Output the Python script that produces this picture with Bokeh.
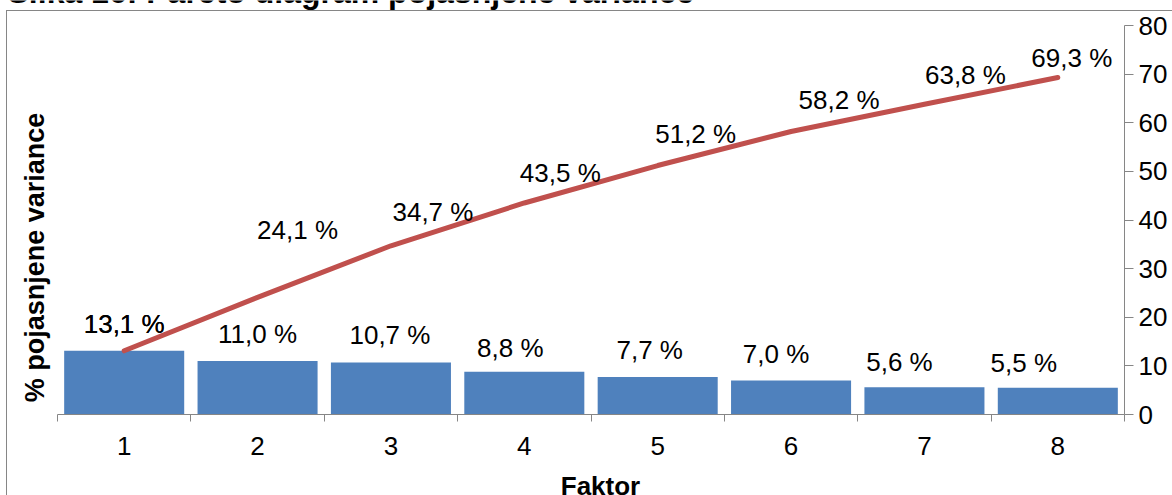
import math
from bokeh.plotting import figure
from bokeh.models import Range1d, FixedTicker, Label, ColumnDataSource
from bokeh.core.properties import value
from bokeh.embed import file_html
from bokeh.resources import INLINE

# ---- data ----
factors = [1, 2, 3, 4, 5, 6, 7, 8]
factor_labels = ["1", "2", "3", "4", "5", "6", "7", "8"]
explained = [13.1, 11.0, 10.7, 8.8, 7.7, 7.0, 5.6, 5.5]
cumulative = [13.1, 24.1, 34.7, 43.5, 51.2, 58.2, 63.8, 69.3]
y_ticks = [0, 10, 20, 30, 40, 50, 60, 70, 80]
title_text = "Slika 16: Pareto diagram pojasnjene variance"
x_title = "Faktor"
y_title = "% pojasnjene variance"

# label placement tweaks (screen px), as in the original
bar_dx = [0, 0, -1, -14, -8, -15, -25, -34]
bar_dy = [-27, -27, -27, -24, -27, -26, -25, -25]
cum_dx = [0, 40, 42, 36, 38, 48, 41, 14]
cum_dy = [-27, -67, -34, -30, -32, -32, -29, -20]

FONT = "Liberation Sans"
GRAY = "#868686"
BLUE = "#4F81BD"
RED = "#C0504D"

W, H = 1172, 495
# plot-area edges in px (category axis 57..1124, value 0..80 at 414..25)
PL, PR, PT, PB = 57, 1124, 25, 414
UX = (PR - PL) / 8.0       # px per category
UY = (PB - PT) / 80.0      # px per value unit

def px2x(px):
    return 0.5 + (px - PL) / UX

def py2y(py):
    return (PB - py) / UY

p = figure(width=W, height=H,
           x_range=Range1d(px2x(0), px2x(PR)), y_range=Range1d(0, py2y(0)),
           y_axis_location="right", output_backend="svg", toolbar_location=None,
           min_border_left=0, min_border_right=W - PR, min_border_top=0,
           min_border_bottom=H - PB)
p.outline_line_color = None
p.xgrid.visible = False
p.ygrid.visible = False
p.background_fill_alpha = 0
p.border_fill_alpha = 0
# outer chart-area border (left and top edges visible in the crop)
p.styles = {
    "background-color": "white",
    "background-image": f"linear-gradient({GRAY},{GRAY}), linear-gradient({GRAY},{GRAY})",
    "background-size": "1px 500px, 1200px 1px",
    "background-position": "6px 10px, 6px 10px",
    "background-repeat": "no-repeat",
}

def fmt(v):
    return f"{v:.1f} %".replace(".", ",")

src = ColumnDataSource(dict(x=factors, v=explained, c=cumulative,
                            bl=[fmt(v) for v in explained],
                            cl=[fmt(v) for v in cumulative],
                            bdx=bar_dx, bdy=bar_dy, cdx=cum_dx, cdy=cum_dy))
p.vbar(x="x", top="v", bottom=0, width=0.9, source=src, fill_color=BLUE, line_color=None)
p.line(x="x", y="c", source=src, line_color=RED, line_width=5, line_cap="round", line_join="round")

p.text(x="x", y="v", text="bl", x_offset="bdx", y_offset="bdy", source=src,
       text_font=value(FONT), text_align="center", text_baseline="middle",
       text_font_size="26px", text_color="black")
p.text(x="x", y="c", text="cl", x_offset="cdx", y_offset="cdy", source=src,
       text_font=value(FONT), text_align="center", text_baseline="middle",
       text_font_size="26px", text_color="black")

# x axis (category numbers centred, tick marks between categories)
xa = p.xaxis[0]
xa.bounds = (0.5, 8.5)
xa.ticker = FixedTicker(ticks=factors, minor_ticks=[f + 0.5 for f in [0] + factors])
xa.major_label_overrides = {f: l for f, l in zip(factors, factor_labels)}
xa.axis_line_color = GRAY
xa.major_tick_line_color = None
xa.major_tick_out = 0
xa.major_tick_in = 0
xa.minor_tick_line_color = GRAY
xa.minor_tick_out = 7
xa.minor_tick_in = 0
xa.major_label_text_font = FONT
xa.major_label_text_font_size = "26px"
xa.major_label_text_color = "black"
xa.major_label_standoff = 15

# right y axis
ya = p.yaxis[0]
ya.bounds = (0, 80)
ya.ticker = FixedTicker(ticks=y_ticks)
ya.axis_line_color = GRAY
ya.major_tick_line_color = GRAY
ya.major_tick_out = 9
ya.major_tick_in = 0
ya.minor_tick_line_color = None
ya.major_label_text_font = FONT
ya.major_label_text_font_size = "26px"
ya.major_label_text_color = "black"
ya.major_label_standoff = 5

# axis titles and the (cropped) figure caption
p.add_layout(Label(x=px2x(600), y=py2y(470), text=x_title, text_font=FONT, text_font_size="26px",
                   text_font_style="bold", text_align="center", text_baseline="top",
                   text_color="black"), "below")
p.add_layout(Label(x=px2x(34), y=py2y(257), text=y_title, text_font=FONT, text_font_size="27px",
                   text_font_style="bold", text_align="center", text_baseline="middle",
                   angle=math.pi / 2, text_color="black"))
p.add_layout(Label(x=px2x(7), y=py2y(-9), text=title_text, text_font=FONT, text_font_size="32px",
                   text_font_style="bold", text_align="left", text_baseline="alphabetic",
                   text_color="black"))

open("out.html", "w").write(file_html(p, INLINE))
